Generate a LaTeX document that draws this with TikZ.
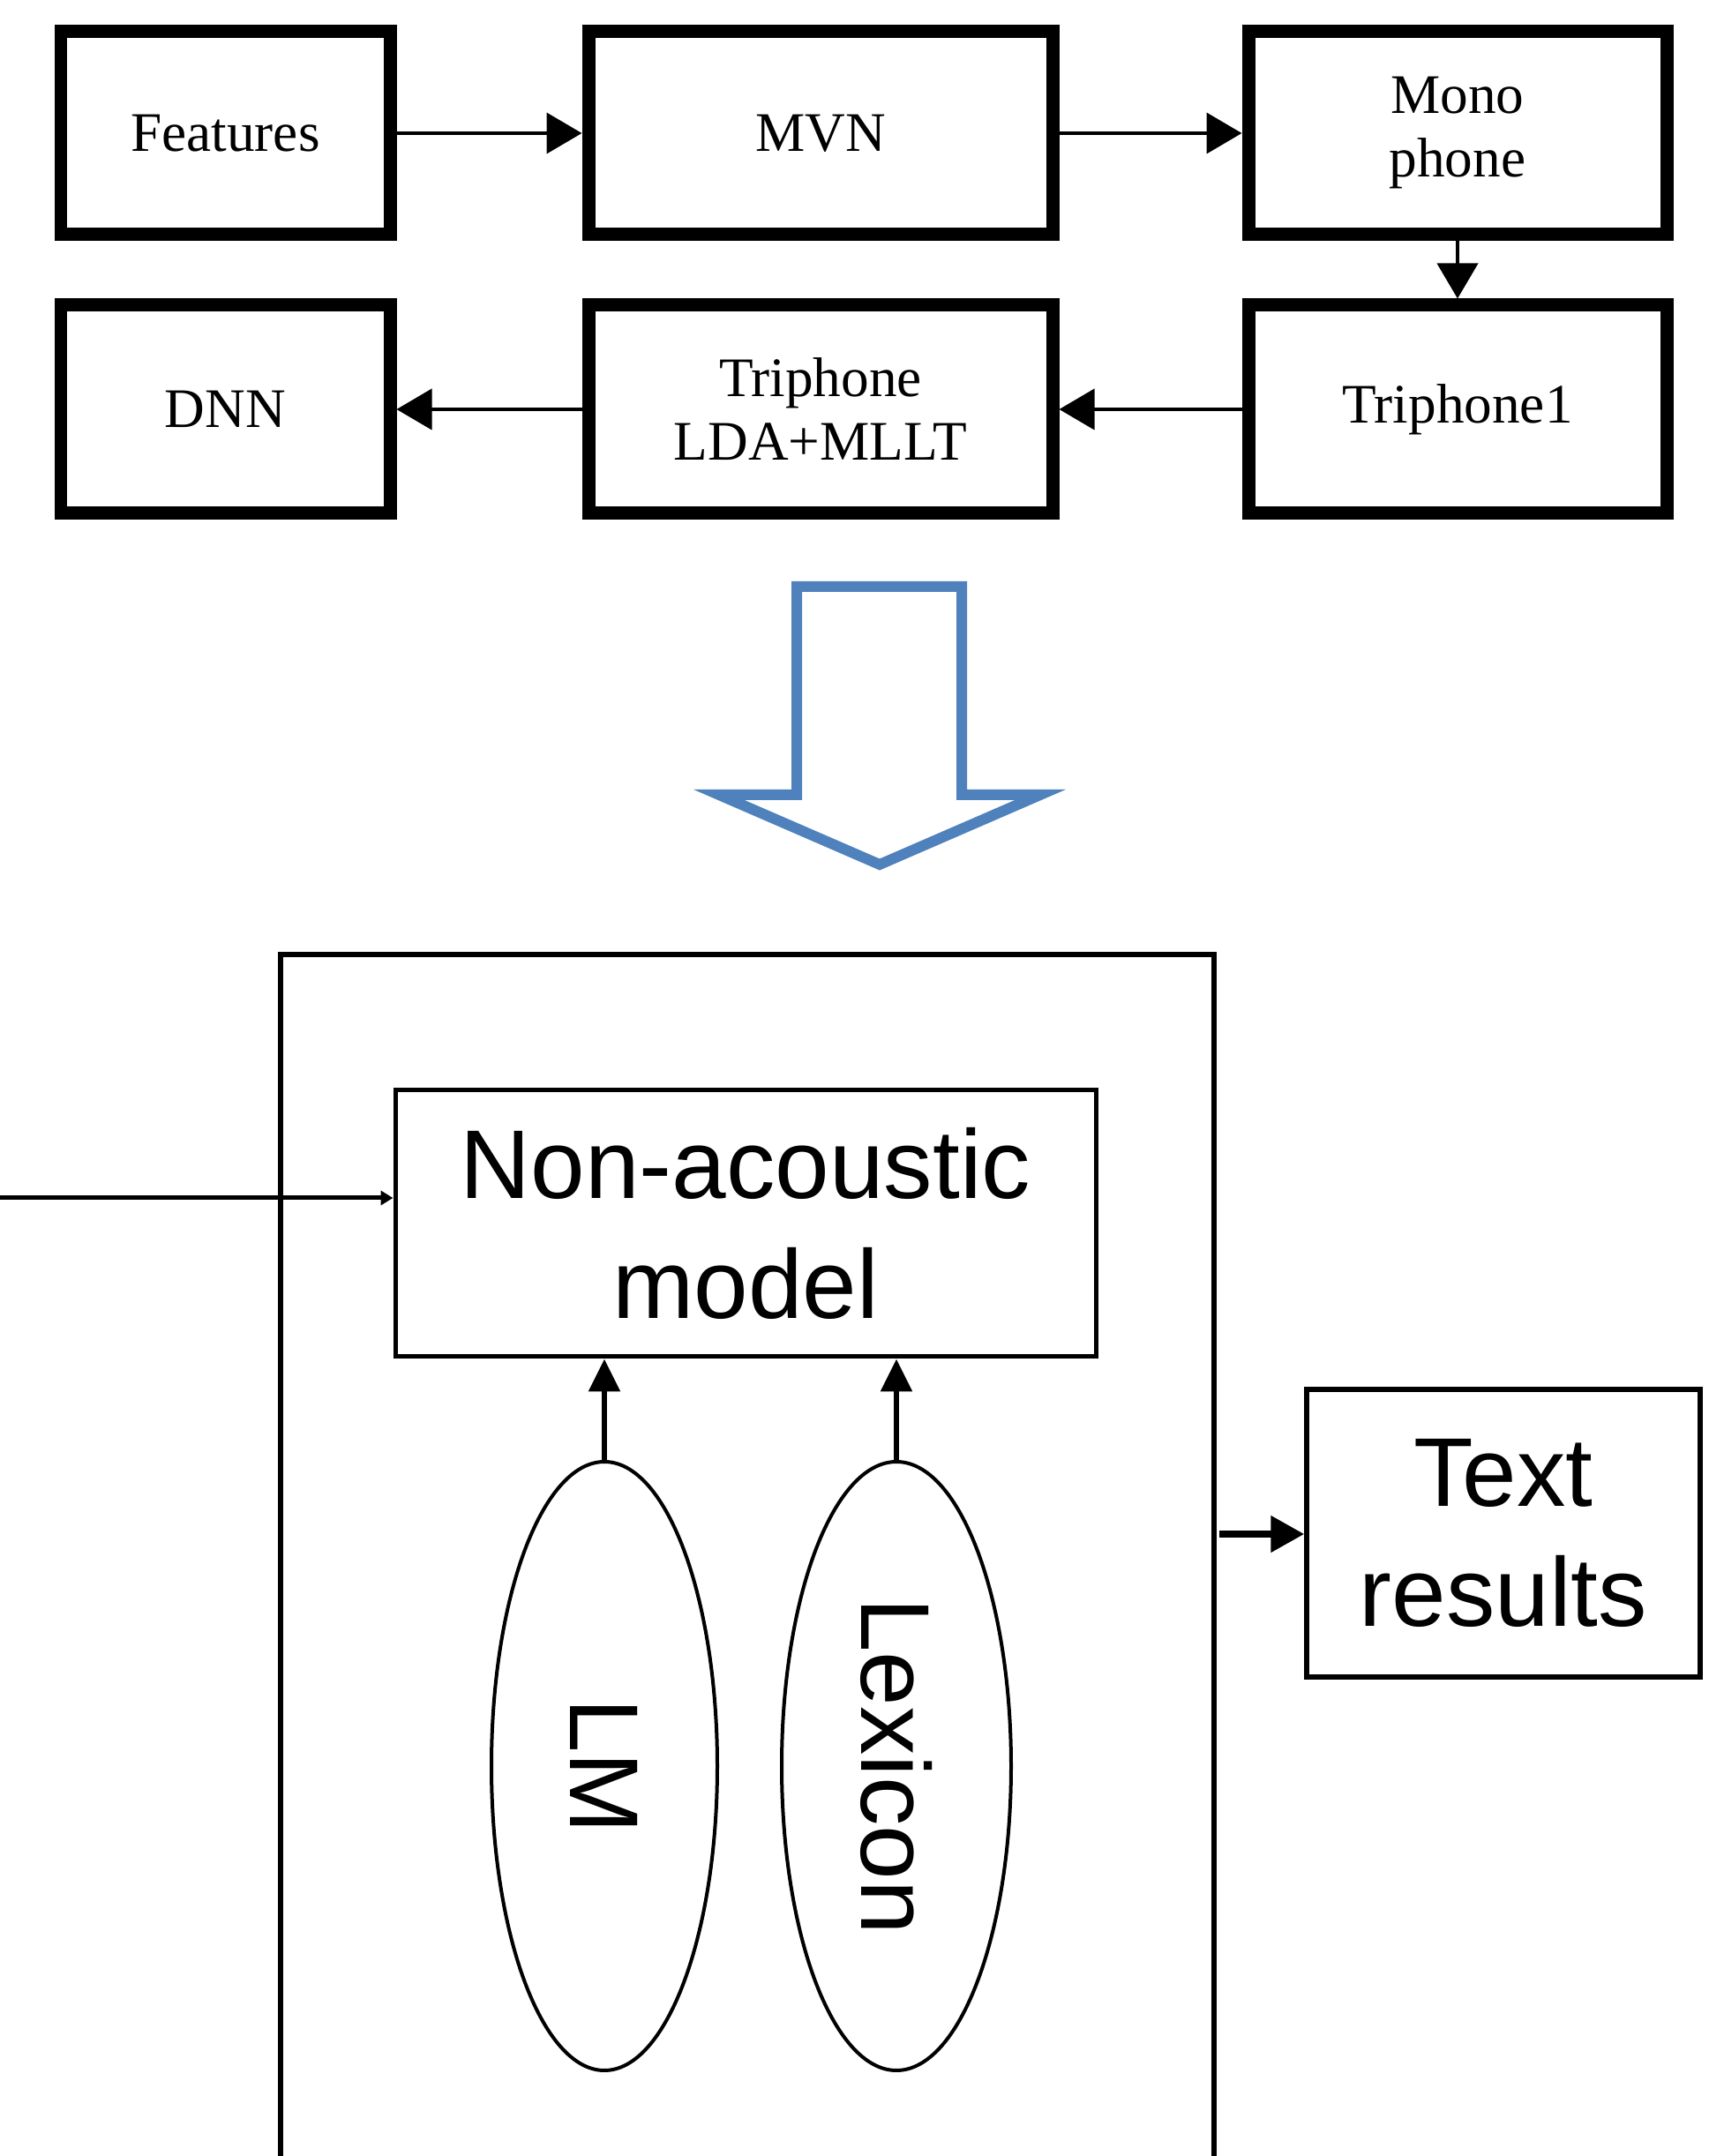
\documentclass[tikz,border=0pt]{standalone}
\usepackage{fontspec}
\setmainfont{Liberation Serif}
\setsansfont{Liberation Sans}
\usetikzlibrary{arrows.meta,shapes.geometric}
\definecolor{arrowblue}{RGB}{79,129,189}

\begin{document}
\begin{tikzpicture}[
    stage/.style={draw, line width=0.15cm, align=center, inner sep=0pt, font=\fontsize{18}{20.5}\selectfont},
    model/.style={draw, line width=0.05cm, align=center, inner sep=0pt, font=\sffamily\fontsize{31.5}{38.6}\selectfont},
    source/.style={draw, ellipse, line width=0.04cm, inner sep=0pt, minimum height=6.90cm, font=\sffamily\fontsize{31.5}{38.6}\selectfont},
    flow/.style={line width=0.04cm, -{Triangle[length=0.40cm, width=0.46cm]}},
    feed/.style={line width=0.06cm, -{Triangle[length=0.37cm, width=0.35cm]}},
]
    \useasboundingbox (0,0) rectangle (19.36,24.44);

    % training stages
    \node[stage, minimum width=3.73cm, minimum height=2.30cm] (feat) at (2.555,22.93) {Features};
    \node[stage, minimum width=5.26cm, minimum height=2.30cm] (mvn) at (9.30,22.93) {MVN};
    \node[stage, minimum width=4.74cm, minimum height=2.30cm] (mono) at (16.52,22.93) {Mono\\phone};
    \node[stage, minimum width=3.73cm, minimum height=2.36cm] (dnn) at (2.555,19.80) {DNN};
    \node[stage, minimum width=5.26cm, minimum height=2.36cm] (lda) at (9.30,19.80) {Triphone\\LDA+MLLT};
    \node[stage, minimum width=4.74cm, minimum height=2.36cm] (tri) at (16.52,19.80) {Triphone1};

    \draw[flow] (feat) -- (mvn);
    \draw[flow] (mvn) -- (mono);
    \draw[flow] (mono) -- (tri);
    \draw[flow] (tri) -- (lda);
    \draw[flow] (lda) -- (dnn);

    % big hollow arrow
    \draw[arrowblue, line width=0.12cm] (9.03,17.79) -- (10.90,17.79) -- (10.90,15.43) -- (11.79,15.43)
        -- (9.97,14.64) -- (8.15,15.43) -- (9.03,15.43) -- cycle;

    % decoder frame
    \draw[line width=0.06cm] (3.18,0) -- (3.18,13.62) -- (13.76,13.62) -- (13.76,0);

    \node[model, minimum width=7.94cm, minimum height=3.02cm] (nam) at (8.45,10.57) {Non-acoustic\\model};
    \node[source, minimum width=2.56cm] (lm) at (6.85,4.42) {\rotatebox{-90}{LM}};
    \node[source, minimum width=2.60cm] (lex) at (10.16,4.42) {\rotatebox{-90}{Lexicon}};
    \node[model, line width=0.055cm, minimum width=4.46cm, minimum height=3.26cm] (res) at (17.04,7.06) {Text\\results};

    \coordinate (in) at (0,10.86);
    \coordinate (out) at (13.82,7.05);

    \draw[line width=0.05cm, -{Triangle[length=0.14cm, width=0.16cm]}] (in) -- (in -| nam.west);
    \draw[feed] (lm.north) -- (lm.north |- nam.south);
    \draw[feed] (lex.north) -- (lex.north |- nam.south);
    \draw[line width=0.08cm, -{Triangle[length=0.38cm, width=0.40cm]}] (out) -- (out -| res.west);
\end{tikzpicture}
\end{document}
